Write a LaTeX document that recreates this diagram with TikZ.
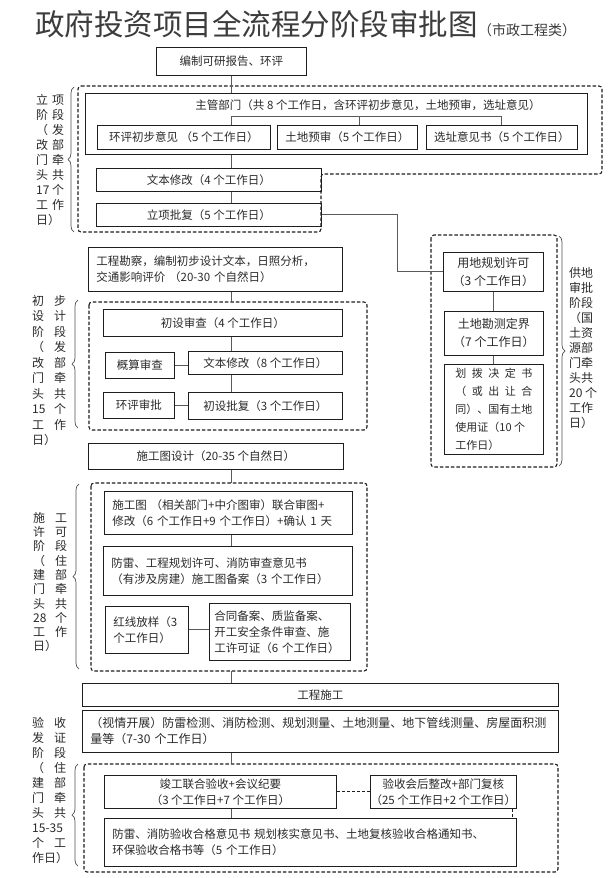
\documentclass[tikz,border=0pt]{standalone}
\usepackage{fontspec}
\setmainfont{Noto Sans CJK SC}
\usetikzlibrary{decorations.pathreplacing}
\definecolor{inkline}{HTML}{1E1E1E}
\definecolor{inktext}{HTML}{2A2A2A}
\definecolor{titlegray}{HTML}{3C3C3C}
\definecolor{linkgray}{HTML}{5A5A5A}
\definecolor{bracegray}{HTML}{505050}

% two-column row for the vertical stage labels
\newcommand{\lblrow}[3][22pt]{\makebox[#1][l]{#2}#3}

\tikzset{
  stagebox/.style={draw=inkline, line width=0.8pt, inner sep=0pt, anchor=north west,
    text=inktext, align=center, font=\fontsize{11.5}{16}\selectfont},
  leftbox/.style={stagebox, align=left, inner xsep=8pt},
  landbox/.style={stagebox, font=\fontsize{12}{18}\selectfont},
  groupline/.style={draw=inkline, line width=1.1pt, dash pattern=on 3.5pt off 2pt, rounded corners=3pt},
  link/.style={draw=linkgray, line width=0.9pt},
  dashlink/.style={link, draw=inkline, dash pattern=on 3pt off 2pt},
  sidebrace/.style={draw=bracegray, line width=0.7pt, decorate, decoration={brace, amplitude=6pt}},
  sidelabel/.style={anchor=north west, align=left, inner sep=0pt, text=inktext,
    font=\fontsize{12}{#1}\selectfont},
  sidelabel/.default=15pt,
}

\begin{document}
\begin{tikzpicture}[x=1pt, y=-1pt]
\useasboundingbox (0,0) rectangle (615,878);
\fill[white] (0,0) rectangle (615,878);
\coordinate (spine) at (231,0);

% Title
\node[anchor=west, inner sep=0pt, text=titlegray, font=\fontsize{29.5}{30}\selectfont]
      (title) at (35,24) {政府投资项目全流程分阶段审批图};
\node[anchor=base west, inner sep=0pt, text=titlegray, font=\fontsize{14}{14}\selectfont]
      (subtitle) at (title.base east) {（市政工程类）};

% Feasibility study
\node[stagebox, minimum width=150pt, minimum height=28pt] (bianzhi) at (156,47) {编制可研报告、环评};

% Project approval stage
\draw[groupline] (78,86) -- (602,86) -- (602,174) -- (321,174) -- (321,232) -- (78,232) -- cycle;
\node[stagebox, minimum width=502pt, minimum height=61pt] (zhuguan) at (85,93) {};
\node[inner sep=0pt, text=inktext, font=\fontsize{11.5}{16}\selectfont]
      (zhuguantxt) at (368,105) {主管部门（共 8 个工作日，含环评初步意见，土地预审，选址意见）};
\foreach \nm/\xx/\ww/\txt in {huanping/97/173/{环评初步意见 （5 个工作日）},
    tudi/277/140/{土地预审（5 个工作日）}, xuanzhi/426/151/{选址意见书（5 个工作日）}}{
  \node[stagebox, minimum width=\ww pt, minimum height=24pt] (\nm) at (\xx,125) {\txt};
}
\node[stagebox, minimum width=225pt, minimum height=23pt] (wenben1) at (96,168) {文本修改（4 个工作日）};
\node[stagebox, minimum width=225pt, minimum height=23pt] (lixiang) at (96,203) {立项批复（5 个工作日）};
\coordinate (zgbar) at (0,116);
\draw[link] (spine |- bianzhi.south) -- (spine |- zhuguan.north);
\draw[link] (spine |- huanping.north) -- (spine |- zgbar) -| (xuanzhi.north);
\draw[link] ([xshift=12pt]tudi.north) -- ([xshift=12pt]tudi.north |- zgbar);
\draw[link] (spine |- zhuguan.south) -- (spine |- wenben1.north);
\draw[link] (spine |- wenben1.south) -- (spine |- lixiang.north);
\node[sidelabel] (lxlabel) at (36,94) {\lblrow[16pt]{立}{项}\\\lblrow[16pt]{阶}{段}\\
  \lblrow[16pt]{（}{发}\\\lblrow[16pt]{改}{部}\\\lblrow[16pt]{门}{牵}\\\lblrow[16pt]{头}{共}\\
  \lblrow[16pt]{17}{个}\\\lblrow[16pt]{工}{作}\\日）};
\draw[sidebrace] (74,232) -- (74,87);

% Land supply stage
\draw[groupline] (431,235) rectangle (557,467);
\node[landbox, minimum width=100pt, minimum height=39pt] (yongdi) at (443,252) {用地规划许可\\（3 个工作日）};
\node[landbox, minimum width=99pt, minimum height=44pt] (kance) at (444,311) {土地勘测定界\\（7 个工作日）};
\node[landbox, align=left, minimum width=99pt, minimum height=90pt, font=\fontsize{11}{18}\selectfont]
      (huabo) at (444,364) {\makebox[77pt]{划\hfill 拨\hfill 决\hfill 定\hfill 书}\\
      \makebox[77pt]{（\hfill 或\hfill 出\hfill 让\hfill 合}\\同）、国有土地\\使用证（10 个\\工作日）};
\draw[link] (lixiang.east) -- ++(76,0) |- (yongdi.west);
\draw[link] (yongdi.south) -- (yongdi.south |- kance.north);
\draw[link] (kance.south) -- (kance.south |- huabo.north);
\node[sidelabel] (gdlabel) at (569,267) {供地\\审批\\阶段\\（国\\土资\\源部\\门牵\\头共\\20 个\\工作\\日）};
\draw[sidebrace] (559,236) -- (559,466);

% Preliminary design stage
\node[leftbox, text width=238pt, minimum height=44pt] (kancha) at (88,247)
      {工程勘察，编制初步设计文本，日照分析，\\交通影响评价 （20-30 个自然日）};
\draw[groupline] (89,302) rectangle (367,430);
\coordinate (g2top) at (231,302);
\node[stagebox, minimum width=239pt, minimum height=27pt] (chushen) at (103,309) {初设审查（4 个工作日）};
\node[stagebox, minimum width=69pt, minimum height=26pt] (gaisuan) at (105,352) {概算审查};
\node[stagebox, minimum width=154pt, minimum height=23pt] (wenben2) at (188,351) {文本修改（8 个工作日）};
\node[stagebox, minimum width=71pt, minimum height=26pt] (huanpi) at (103,392) {环评审批};
\node[stagebox, minimum width=154pt, minimum height=27pt] (chupi) at (188,392) {初设批复（3 个工作日）};
\draw[link] (spine |- kancha.south) -- (g2top);
\draw[link] (spine |- chushen.south) -- (spine |- wenben2.north);
\draw[link] (spine |- wenben2.south) -- (spine |- chupi.north);
\draw[link] (gaisuan.east) -- (gaisuan.east -| wenben2.west);
\draw[link] (huanpi.east) -- (huanpi.east -| chupi.west);
\node[sidelabel=15.5pt] (cslabel) at (32,295) {\lblrow{初}{步}\\\lblrow{设}{计}\\\lblrow{阶}{段}\\
  \lblrow{（}{发}\\\lblrow{改}{部}\\\lblrow{门}{牵}\\\lblrow{头}{共}\\\lblrow{15}{个}\\
  \lblrow{工}{作}\\日）};
\draw[sidebrace] (78,428) -- (78,300);

% Construction permit stage
\node[stagebox, minimum width=255pt, minimum height=26pt] (shejitu) at (88,443) {施工图设计（20-35 个自然日）};
\draw[groupline] (91,483) rectangle (367,671);
\coordinate (g3top) at (231,483);
\coordinate (g3bot) at (231,671);
\node[leftbox, text width=232pt, minimum height=43pt] (shentu) at (104,491)
      {施工图 （相关部门+中介图审）联合审图+\\修改（6 个工作日+9 个工作日）+确认 1 天};
\node[leftbox, text width=233pt, minimum height=49pt] (beian) at (103,546)
      {防雷、工程规划许可、消防审查意见书\\（有涉及房建）施工图备案（3 个工作日）};
\node[leftbox, text width=67pt, minimum height=47pt] (hongxian) at (105,606) {红线放样（3\\个工作日）};
\node[leftbox, inner xsep=5pt, text width=131pt, minimum height=57pt] (hetong) at (209,603)
      {合同备案、质监备案、\\开工安全条件审查、施\\工许可证（6 个工作日）};
\draw[link] (spine |- shejitu.south) -- (g3top);
\draw[link] (spine |- shentu.south) -- (spine |- beian.north);
\draw[link] (hongxian.east) -- (hongxian.east -| hetong.west);
\node[sidelabel=14.3pt] (sglabel) at (33,512) {\lblrow{施}{工}\\\lblrow{许}{可}\\\lblrow{阶}{段}\\
  \lblrow{（}{住}\\\lblrow{建}{部}\\\lblrow{门}{牵}\\\lblrow{头}{共}\\\lblrow{28}{个}\\
  \lblrow{工}{作}\\日）};
\draw[sidebrace] (79,669) -- (79,484);

% Construction
\node[stagebox, minimum width=476pt, minimum height=23pt] (shigong) at (82,683) {工程施工};
\draw[link] (g3bot) -- (spine |- shigong.north);

% Acceptance stage
\node[leftbox, text width=460pt, minimum height=42pt, font=\fontsize{12}{16}\selectfont] (celiang) at (82,710)
      {（视情开展）防雷检测、消防检测、规划测量、土地测量、地下管线测量、房屋面积测\\量等（7-30 个工作日）};
\draw[groupline] (84,764) rectangle (558,872);
\coordinate (g4top) at (231,764);
\node[stagebox, minimum width=232pt, minimum height=33pt] (jungong) at (104,775)
      {竣工联合验收+会议纪要\\（3 个工作日+7 个工作日）};
\node[stagebox, minimum width=146pt, minimum height=33pt] (zhenggai) at (370,775)
      {验收会后整改+部门复核\\（25 个工作日+2 个工作日）};
\node[leftbox, text width=396pt, minimum height=48pt] (heige) at (104,818)
      {防雷、消防验收合格意见书 规划核实意见书、土地复核验收合格通知书、\\环保验收合格书等（5 个工作日）};
\draw[link] (spine |- celiang.south) -- (g4top);
\draw[link] (spine |- jungong.south) -- (spine |- heige.north);
\draw[dashlink] (jungong.east) -- (zhenggai.west);
\draw[dashlink] ([xshift=-4pt]zhenggai.south east) -- ([xshift=-4pt]zhenggai.south east |- heige.north);
\node[sidelabel] (yslabel) at (32,717) {\lblrow{验}{收}\\\lblrow{发}{证}\\\lblrow{阶}{段}\\
  \lblrow{（}{住}\\\lblrow{建}{部}\\\lblrow{门}{牵}\\\lblrow{头}{共}\\15-35\\
  \lblrow{个}{工}\\作日）};
\draw[sidebrace] (78,866) -- (78,764);
\end{tikzpicture}
\end{document}
